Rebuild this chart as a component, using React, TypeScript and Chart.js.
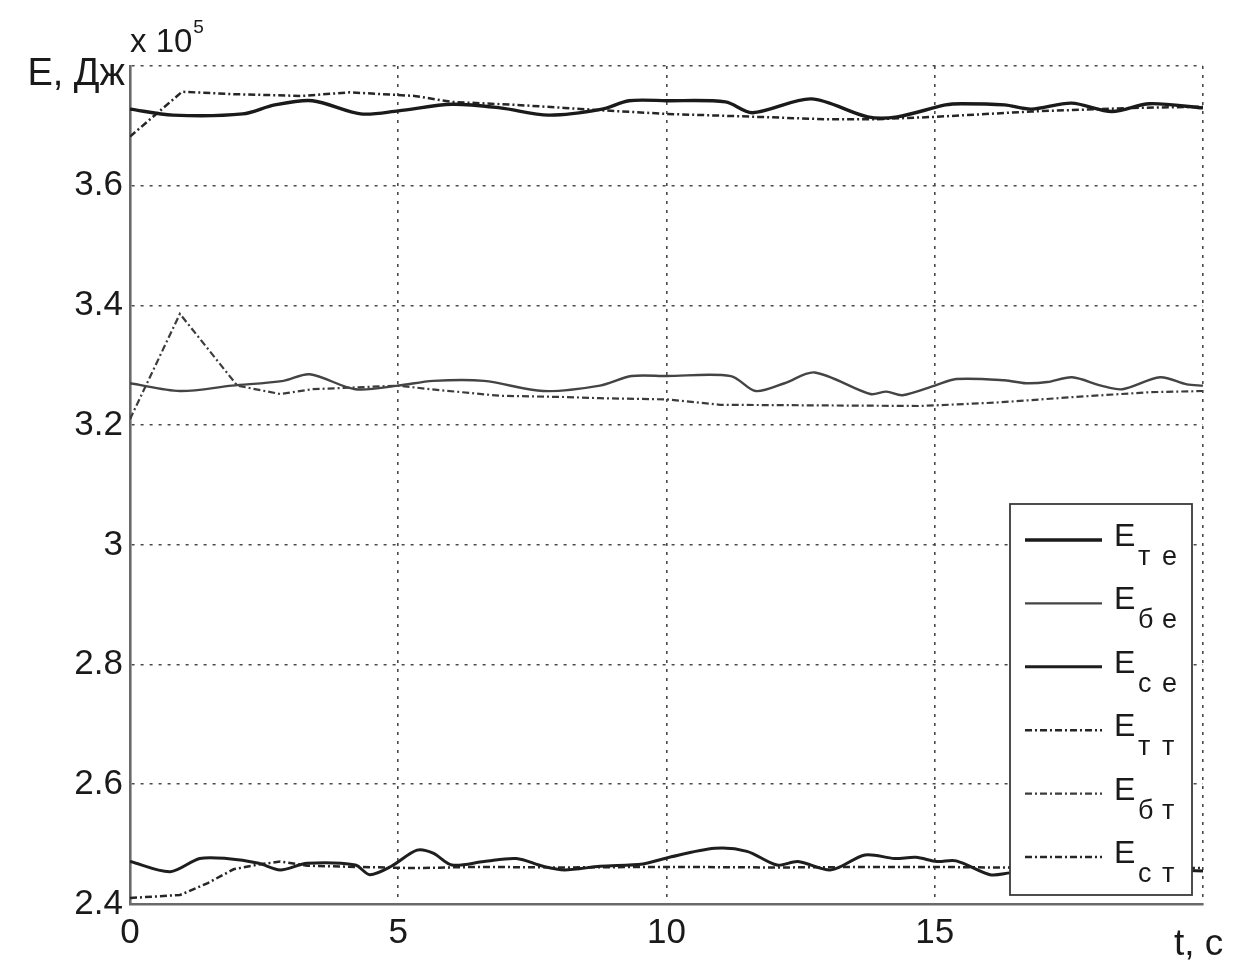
import React, { useEffect, useRef } from 'react';
import { Chart, registerables } from 'chart.js';

Chart.register(...registerables);

const FONT = '"Liberation Sans", Arial, sans-serif';

// Tick labels
const xTickLabels = ['0', '5', '10', '15', ''];
const yTickLabels = ['2.4', '2.6', '2.8', '3', '3.2', '3.4', '3.6', ''];

// Legend text
const legendMain = 'Е';
const legendSubs = [['т', 'е'], ['б', 'е'], ['с', 'е'], ['т', 'т'], ['б', 'т'], ['с', 'т']];

// E_те (solid, thick) — values ×10^5 J
const tTe = [0, 0.8, 2.1, 2.7, 3.4, 4.3, 5.0, 6.0, 6.9, 7.8, 8.8, 9.3, 10, 11.1, 11.6, 12.7, 13.75, 14.3, 15.2, 15.5, 16.3, 16.8, 17.55, 18.3, 19.0, 20];
const eTe = [3.728, 3.718, 3.72, 3.735, 3.742, 3.72, 3.725, 3.736, 3.73, 3.718, 3.728, 3.742, 3.742, 3.74, 3.722, 3.745, 3.715, 3.715, 3.735, 3.737, 3.735, 3.728, 3.738, 3.724, 3.737, 3.73];

// E_бе (solid, thin)
const tBe = [0, 0.93, 1.9, 2.86, 3.35, 4.2, 5.0, 5.65, 6.6, 7.7, 8.76, 9.35, 10, 11.2, 11.66, 12.2, 12.76, 13.8, 14.1, 14.4, 15, 15.4, 16.3, 16.7, 17.1, 17.56, 18.1, 18.5, 19.2, 19.7, 20];
const eBe = [3.27, 3.257, 3.266, 3.274, 3.285, 3.26, 3.266, 3.274, 3.274, 3.257, 3.266, 3.282, 3.282, 3.282, 3.257, 3.27, 3.288, 3.252, 3.256, 3.25, 3.266, 3.277, 3.275, 3.27, 3.272, 3.28, 3.266, 3.26, 3.28, 3.268, 3.266];

// E_се (solid)
const tSe = [0, 0.75, 1.3, 1.8, 2.4, 2.8, 3.3, 4.2, 4.47, 4.87, 5.35, 5.65, 6.0, 6.6, 7.2, 7.7, 8.1, 8.76, 9.56, 10, 10.9, 11.5, 12.06, 12.45, 13.07, 13.7, 14.25, 14.65, 15.04, 15.4, 16.03, 16.4, 17.2, 18.2, 19.2, 20];
const eSe = [2.471, 2.454, 2.476, 2.476, 2.468, 2.457, 2.468, 2.465, 2.449, 2.463, 2.49, 2.485, 2.465, 2.471, 2.476, 2.463, 2.457, 2.463, 2.467, 2.477, 2.493, 2.488, 2.465, 2.471, 2.457, 2.482, 2.476, 2.478, 2.471, 2.472, 2.449, 2.452, 2.46, 2.462, 2.458, 2.455];

// E_тт (dash-dot)
const tTt = [0, 0.97, 1.9, 3.2, 4.1, 5.3, 6.0, 7.2, 8.1, 8.8, 10, 11.7, 13.0, 13.9, 15, 16.8, 18.7, 20];
const eTt = [3.682, 3.757, 3.753, 3.75, 3.756, 3.75, 3.74, 3.735, 3.73, 3.726, 3.72, 3.715, 3.711, 3.711, 3.715, 3.724, 3.73, 3.732];

// E_бт (dash-dot)
const tBt = [0, 0.93, 2.0, 2.8, 3.4, 5.0, 5.6, 6.9, 8.1, 8.76, 10, 11, 14.7, 15, 16.2, 17.6, 19, 20];
const eBt = [3.21, 3.386, 3.266, 3.252, 3.26, 3.266, 3.26, 3.249, 3.247, 3.245, 3.243, 3.234, 3.232, 3.233, 3.238, 3.247, 3.255, 3.257];

// E_ст (dash-dot)
const tSt = [0, 0.93, 1.45, 1.93, 2.4, 2.8, 3.3, 4.2, 5.3, 6.5, 8, 10, 12, 14, 15, 16, 18, 20];
const eSt = [2.41, 2.415, 2.435, 2.458, 2.466, 2.471, 2.464, 2.462, 2.46, 2.462, 2.461, 2.462, 2.461, 2.462, 2.462, 2.461, 2.46, 2.46];

const DASHDOT = [7, 3, 2, 3];

function series(label: string, t: number[], v: number[], color: string, width: number, dash: number[], tension: number) {
  return {
    label,
    data: t.map((x, i) => ({ x, y: v[i] })),
    borderColor: color,
    borderWidth: width,
    borderDash: dash,
    pointRadius: 0,
    tension,
    fill: false,
  };
}

const textPlugin = {
  id: 'matlabText',
  afterDraw(chart: any) {
    const ctx = chart.ctx as CanvasRenderingContext2D;
    const a = chart.chartArea;
    ctx.save();
    ctx.fillStyle = '#1a1a1a';
    ctx.textBaseline = 'alphabetic';
    // y-axis label
    ctx.font = `38px ${FONT}`;
    ctx.textAlign = 'right';
    ctx.fillText('Е, Дж', a.left - 5, a.top + 19);
    // exponent
    ctx.textAlign = 'left';
    ctx.font = `33px ${FONT}`;
    ctx.fillText('x 10', a.left, a.top - 14);
    const w = ctx.measureText('x 10').width;
    ctx.font = `19px ${FONT}`;
    ctx.fillText('5', a.left + w + 1, a.top - 33);
    // x-axis label
    ctx.font = `37px ${FONT}`;
    ctx.textAlign = 'left';
    ctx.fillText('t, c', a.right - 29, a.bottom + 51);

    // legend
    const lx = a.right - 193, ly = a.bottom - 400, lw = 182, lh = 391;
    ctx.fillStyle = '#ffffff';
    ctx.fillRect(lx, ly, lw, lh);
    ctx.strokeStyle = '#3a3a3a';
    ctx.lineWidth = 1.8;
    ctx.setLineDash([]);
    ctx.strokeRect(lx, ly, lw, lh);
    chart.data.datasets.forEach((ds: any, i: number) => {
      const y = ly + 36 + i * 63.4;
      ctx.save();
      ctx.strokeStyle = ds.borderColor;
      ctx.lineWidth = ds.borderWidth;
      ctx.setLineDash(ds.borderDash || []);
      ctx.beginPath();
      ctx.moveTo(lx + 15, y);
      ctx.lineTo(lx + 92, y);
      ctx.stroke();
      ctx.restore();
      ctx.fillStyle = '#1a1a1a';
      ctx.textAlign = 'left';
      ctx.font = `32px ${FONT}`;
      ctx.fillText(legendMain, lx + 104, y + 6);
      ctx.font = `27px ${FONT}`;
      ctx.fillText(legendSubs[i][0], lx + 128, y + 25);
      ctx.fillText(legendSubs[i][1], lx + 152, y + 25);
    });
    ctx.restore();
  },
};

export default function App() {
  const ref = useRef<HTMLCanvasElement | null>(null);
  useEffect(() => {
    if (!ref.current) return;
    const chart = new Chart(ref.current, {
      type: 'line',
      data: {
        datasets: [
          series('Е_те', tTe, eTe, '#1a1a1a', 3.4, [], 0.3),
          series('Е_бе', tBe, eBe, '#444444', 2.4, [], 0.3),
          series('Е_се', tSe, eSe, '#1e1e1e', 3.0, [], 0.3),
          series('Е_тт', tTt, eTt, '#262626', 2.5, DASHDOT, 0),
          series('Е_бт', tBt, eBt, '#3c3c3c', 2.2, DASHDOT, 0),
          series('Е_ст', tSt, eSt, '#262626', 2.5, DASHDOT, 0),
        ] as any,
      },
      options: {
        animation: false,
        responsive: false,
        maintainAspectRatio: false,
        layout: { padding: { top: 66, right: 33, left: 0, bottom: 0 } },
        plugins: { legend: { display: false }, tooltip: { enabled: false } },
        scales: {
          x: {
            type: 'linear',
            min: 0,
            max: 20,
            ticks: {
              stepSize: 5,
              color: '#1a1a1a',
              font: { family: FONT, size: 35 },
              padding: 8,
              maxRotation: 0,
              callback: (_v: any, i: number) => xTickLabels[i] ?? '',
            },
            grid: { color: '#4a4a4a', lineWidth: 1.6, drawTicks: false },
            border: { display: true, color: '#6a6a6a', width: 2.6, dash: [3, 6] },
            afterFit: (s: any) => { s.height = 57; },
          },
          y: {
            type: 'linear',
            min: 2.4,
            max: 3.8,
            ticks: {
              stepSize: 0.2,
              color: '#1a1a1a',
              font: { family: FONT, size: 35 },
              padding: 7,
              callback: (_v: any, i: number) => yTickLabels[i] ?? '',
            },
            grid: { color: '#4a4a4a', lineWidth: 1.6, drawTicks: false },
            border: { display: true, color: '#6a6a6a', width: 2.6, dash: [3, 6] },
            afterFit: (s: any) => { s.width = 130; },
          },
        },
      } as any,
      plugins: [textPlugin],
    });
    return () => chart.destroy();
  }, []);
  return (
    <div style={{ position: 'fixed', left: 0, top: 0, width: 1236, height: 961, background: '#fff' }}>
      <canvas ref={ref} width={1236} height={961} style={{ width: 1236, height: 961, display: 'block' }} />
    </div>
  );
}
